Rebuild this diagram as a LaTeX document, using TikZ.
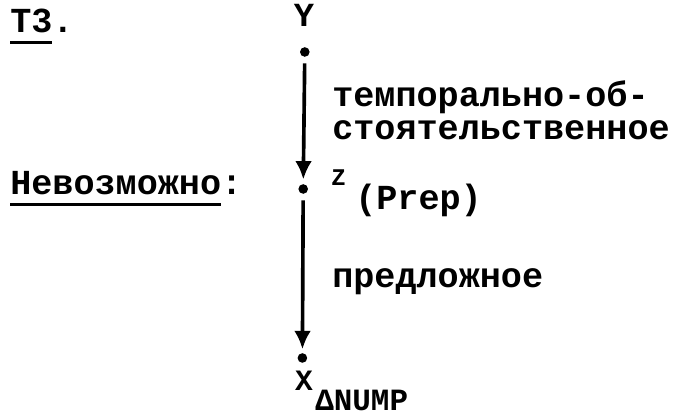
\documentclass[tikz,border=0pt]{standalone}
\usepackage{fontspec}
\newfontfamily\tw{Liberation Mono}
\usetikzlibrary{arrows.meta}
\newcommand{\undl}[1]{\setbox0\hbox{#1}\rlap{\rule[-0.3em]{\wd0}{0.08em}}\box0}

\begin{document}
\begin{tikzpicture}[
    txt/.style={anchor=base west, inner sep=0pt, font=\tw\fontsize{25}{30}\selectfont\bfseries},
    var/.style={anchor=base, inner sep=0pt, font=\tw\fontsize{24}{28}\selectfont\bfseries},
    pt/.style={circle, fill, inner sep=0pt, minimum size=0.24cm},
    arr/.style={-{Latex[length=4.6mm,width=4.2mm]}, line width=2.6pt}
  ]
    \useasboundingbox (0,0) rectangle (17.25,10.375);
    \node [txt] (t3) at (0.25,9.55) {\undl{T3}.};
    \node [txt] (nev) at (0.25,5.5) {\undl{Невозможно}:};
    \node [var] (ly) at (7.6,9.7) {Y};
    \node [pt] (y) at (7.62,9.075) {};
    \node [pt] (z) at (7.58,5.65) {};
    \node [pt] (x) at (7.56,1.425) {};
    \node [var, anchor=base west, font=\tw\fontsize{17}{20}\selectfont\bfseries] (lz) at (8.28,5.725) {Z};
    \node [txt, font=\tw\fontsize{25}{28}\selectfont\bfseries] (prep) at (8.875,5.125) {(Prep)};
    \node [var, font=\tw\fontsize{21}{24}\selectfont\bfseries] (lx) at (7.6,0.6) {X};
    \node [txt, font=\tw\fontsize{22}{26}\selectfont\bfseries] (nump) at (7.875,0.12) {ΔNUMP};
    \node [txt] (temp1) at (8.3,7.7) {темпорально-об-};
    \node [txt] (temp2) at (8.3,6.875) {стоятельственное};
    \node [txt] (pred) at (8.3,3.175) {предложное};
    \draw [arr, shorten <=0.16cm, shorten >=0.11cm] (y) -- (z);
    \draw [arr, shorten <=0.16cm, shorten >=0.09cm] (z) -- (x);
\end{tikzpicture}
\end{document}
